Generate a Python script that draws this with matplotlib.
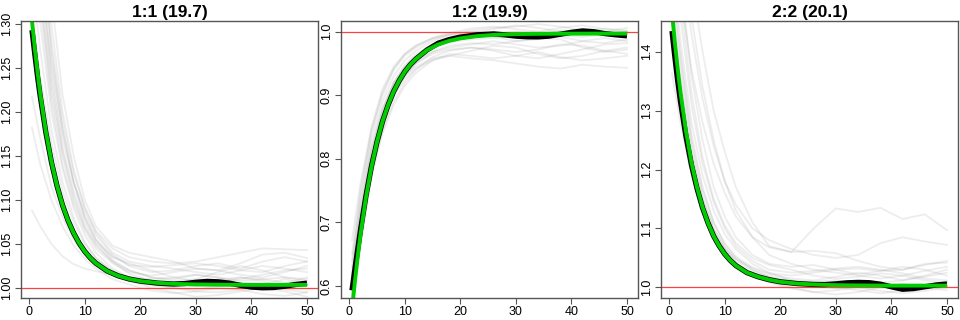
import matplotlib
matplotlib.use("Agg")
import matplotlib.pyplot as plt

plt.rcParams['font.family'] = ['Liberation Sans', 'DejaVu Sans']

# panel titles
titles = ["1:1 (19.7)", "1:2 (19.9)", "2:2 (20.1)"]

# x positions for the mean / fitted curves
t = [0.5, 1, 1.5, 2, 3, 4, 5, 6, 7, 8, 9, 10, 11, 12, 14, 16, 18, 20, 23, 26,
     28, 30, 32, 34, 36, 38, 40, 42, 44, 46, 48, 50]

# x positions for the individual (gray) runs
gx = [0.5, 2, 4, 6, 8, 10, 12, 15, 18, 22, 26, 30, 34, 38, 42, 46, 50]

# ---- panel 1:1 ----
fit_11 = [1.3035, 1.2726, 1.2449, 1.220, 1.1777, 1.1437, 1.1163, 1.0942, 1.0765,
          1.0623, 1.0508, 1.0415, 1.0341, 1.0281, 1.0194, 1.0138, 1.0102, 1.0078,
          1.0058, 1.0047, 1.0043, 1.0040, 1.0038, 1.0037, 1.0036, 1.0036, 1.0035,
          1.0035, 1.0035, 1.0035, 1.0035, 1.0035]
mean_11 = [1.293, 1.266, 1.240, 1.217, 1.1765, 1.143, 1.116, 1.094, 1.0765,
           1.0623, 1.0508, 1.0415, 1.0341, 1.0281, 1.0194, 1.0138, 1.0102, 1.0078,
           1.0056, 1.0045, 1.005, 1.0065, 1.0075, 1.007, 1.0055, 1.003, 1.001,
           1.0002, 1.0005, 1.002, 1.004, 1.0055]
runs_11 = [
    [1.088, 1.070, 1.050, 1.036, 1.027, 1.022, 1.019, 1.015, 1.012, 1.010, 1.012, 1.015, 1.012, 1.008, 1.010, 1.012, 1.010],
    [1.217, 1.170, 1.115, 1.080, 1.055, 1.038, 1.026, 1.015, 1.008, 1.003, 1.000, 0.998, 1.002, 1.006, 1.004, 0.998, 0.995],
    [1.182, 1.140, 1.100, 1.070, 1.048, 1.033, 1.022, 1.010, 1.004, 0.997, 0.994, 0.996, 1.000, 0.998, 0.993, 0.991, 0.995],
    [1.450, 1.360, 1.250, 1.170, 1.120, 1.085, 1.060, 1.038, 1.025, 1.018, 1.020, 1.025, 1.028, 1.022, 1.030, 1.035, 1.030],
    [1.500, 1.400, 1.280, 1.190, 1.130, 1.090, 1.063, 1.040, 1.030, 1.025, 1.022, 1.018, 1.015, 1.020, 1.025, 1.022, 1.018],
    [1.420, 1.330, 1.220, 1.150, 1.100, 1.068, 1.048, 1.030, 1.020, 1.012, 1.008, 1.010, 1.018, 1.025, 1.020, 1.012, 1.008],
    [1.550, 1.440, 1.300, 1.200, 1.135, 1.092, 1.065, 1.045, 1.035, 1.030, 1.028, 1.030, 1.035, 1.040, 1.045, 1.044, 1.043],
    [1.380, 1.300, 1.200, 1.135, 1.090, 1.060, 1.040, 1.022, 1.012, 1.005, 1.000, 0.996, 0.995, 0.998, 1.004, 1.010, 1.005],
    [1.480, 1.380, 1.260, 1.180, 1.120, 1.080, 1.055, 1.032, 1.020, 1.012, 1.010, 1.015, 1.012, 1.005, 1.000, 1.005, 1.012],
    [1.400, 1.320, 1.210, 1.140, 1.095, 1.065, 1.045, 1.028, 1.018, 1.014, 1.018, 1.022, 1.020, 1.015, 1.012, 1.018, 1.025],
    [1.600, 1.480, 1.330, 1.220, 1.150, 1.100, 1.070, 1.048, 1.040, 1.035, 1.030, 1.022, 1.020, 1.028, 1.038, 1.040, 1.034],
    [1.350, 1.270, 1.180, 1.120, 1.080, 1.052, 1.034, 1.018, 1.008, 1.000, 0.995, 0.990, 0.992, 0.996, 1.000, 0.996, 0.990],
    [1.460, 1.360, 1.240, 1.160, 1.110, 1.075, 1.052, 1.035, 1.028, 1.020, 1.012, 1.008, 1.006, 1.010, 1.015, 1.020, 1.022],
    [1.520, 1.410, 1.270, 1.180, 1.120, 1.080, 1.055, 1.036, 1.026, 1.024, 1.026, 1.028, 1.025, 1.020, 1.018, 1.025, 1.030],
    [1.430, 1.340, 1.230, 1.155, 1.105, 1.070, 1.050, 1.030, 1.016, 1.008, 1.005, 1.002, 1.006, 1.012, 1.008, 1.000, 1.002],
    [1.300, 1.240, 1.165, 1.110, 1.075, 1.050, 1.034, 1.020, 1.010, 1.004, 1.002, 1.005, 1.010, 1.012, 1.010, 1.006, 1.004],
]

# ---- panel 1:2 ----
fit_12 = [0.562, 0.605, 0.644, 0.679, 0.7387, 0.787, 0.8267, 0.859, 0.8847, 0.906,
          0.923, 0.937, 0.9482, 0.957, 0.9709, 0.9798, 0.9856, 0.9895, 0.993, 0.9949,
          0.9956, 0.9961, 0.9964, 0.9966, 0.9967, 0.9968, 0.9969, 0.9969, 0.997,
          0.997, 0.997, 0.997]
mean_12 = [0.593, 0.625, 0.656, 0.686, 0.741, 0.788, 0.8267, 0.859, 0.8847, 0.906,
           0.923, 0.937, 0.9482, 0.957, 0.9712, 0.9818, 0.9876, 0.9915, 0.995, 0.9965,
           0.995, 0.993, 0.992, 0.9918, 0.993, 0.996, 0.999, 1.0012, 1.000, 0.997,
           0.995, 0.9935]
runs_12 = [
    [0.672, 0.760, 0.850, 0.910, 0.945, 0.965, 0.978, 0.990, 0.998, 1.005, 1.008, 1.004, 1.000, 1.006, 1.010, 1.004, 1.000],
    [0.640, 0.730, 0.830, 0.890, 0.930, 0.955, 0.970, 0.985, 0.995, 1.000, 0.998, 0.992, 0.995, 1.002, 1.000, 0.995, 0.998],
    [0.600, 0.700, 0.800, 0.865, 0.905, 0.930, 0.945, 0.958, 0.962, 0.958, 0.955, 0.950, 0.945, 0.942, 0.948, 0.945, 0.943],
    [0.580, 0.680, 0.780, 0.845, 0.890, 0.920, 0.940, 0.960, 0.970, 0.975, 0.972, 0.968, 0.972, 0.980, 0.978, 0.970, 0.965],
    [0.620, 0.720, 0.820, 0.880, 0.920, 0.945, 0.960, 0.975, 0.983, 0.988, 0.990, 0.995, 0.998, 0.992, 0.985, 0.982, 0.988],
    [0.590, 0.690, 0.800, 0.870, 0.915, 0.940, 0.955, 0.968, 0.975, 0.980, 0.985, 0.980, 0.975, 0.978, 0.985, 0.990, 0.985],
    [0.630, 0.740, 0.840, 0.900, 0.940, 0.962, 0.975, 0.988, 0.995, 0.998, 1.004, 1.010, 1.006, 1.000, 0.996, 1.000, 1.006],
    [0.570, 0.660, 0.770, 0.840, 0.885, 0.915, 0.935, 0.955, 0.965, 0.962, 0.958, 0.962, 0.968, 0.960, 0.955, 0.958, 0.962],
    [0.610, 0.710, 0.810, 0.875, 0.920, 0.948, 0.965, 0.980, 0.990, 0.995, 0.992, 0.985, 0.988, 0.995, 1.000, 1.005, 1.002],
    [0.600, 0.700, 0.800, 0.860, 0.900, 0.925, 0.942, 0.955, 0.962, 0.970, 0.978, 0.975, 0.965, 0.958, 0.962, 0.970, 0.975],
    [0.650, 0.750, 0.845, 0.905, 0.942, 0.965, 0.978, 0.990, 0.996, 1.002, 1.006, 1.008, 1.012, 1.008, 1.002, 0.998, 0.995],
    [0.585, 0.685, 0.790, 0.855, 0.900, 0.930, 0.950, 0.968, 0.978, 0.982, 0.980, 0.985, 0.990, 0.988, 0.975, 0.968, 0.972],
    [0.615, 0.715, 0.815, 0.878, 0.918, 0.944, 0.960, 0.974, 0.985, 0.992, 0.996, 1.000, 0.998, 0.994, 0.992, 0.996, 1.000],
    [0.595, 0.695, 0.800, 0.862, 0.905, 0.932, 0.950, 0.965, 0.972, 0.975, 0.970, 0.962, 0.958, 0.965, 0.972, 0.980, 0.982],
]

# ---- panel 2:2 ----
fit_22 = [1.467, 1.417, 1.3727, 1.333, 1.2659, 1.212, 1.1699, 1.136, 1.1089, 1.087,
          1.0702, 1.0565, 1.0457, 1.037, 1.025, 1.018, 1.013, 1.0095, 1.0065, 1.005,
          1.0043, 1.0038, 1.0035, 1.0033, 1.0032, 1.0031, 1.003, 1.003, 1.003,
          1.003, 1.003, 1.003]
mean_22 = [1.435, 1.392, 1.352, 1.317, 1.257, 1.208, 1.168, 1.135, 1.1089, 1.087,
           1.0702, 1.0565, 1.0457, 1.037, 1.025, 1.018, 1.013, 1.0095, 1.0065, 1.005,
           1.0048, 1.006, 1.0078, 1.0085, 1.008, 1.0055, 1.001, 0.9968, 0.998, 1.001,
           1.004, 1.0058]
runs_22 = [
    [1.800, 1.680, 1.520, 1.400, 1.300, 1.230, 1.170, 1.110, 1.070, 1.060, 1.100, 1.134, 1.128, 1.135, 1.116, 1.124, 1.097],
    [1.700, 1.580, 1.430, 1.320, 1.240, 1.180, 1.140, 1.100, 1.080, 1.065, 1.055, 1.050, 1.055, 1.075, 1.085, 1.078, 1.072],
    [1.600, 1.500, 1.370, 1.280, 1.210, 1.160, 1.120, 1.085, 1.068, 1.060, 1.062, 1.058, 1.045, 1.035, 1.030, 1.038, 1.045],
    [1.363, 1.280, 1.190, 1.130, 1.090, 1.065, 1.048, 1.032, 1.022, 1.015, 1.012, 1.018, 1.025, 1.020, 1.012, 1.018, 1.025],
    [1.550, 1.420, 1.280, 1.190, 1.130, 1.090, 1.065, 1.040, 1.025, 1.012, 1.004, 0.998, 1.002, 1.008, 1.012, 1.020, 1.030],
    [1.520, 1.400, 1.260, 1.170, 1.110, 1.072, 1.050, 1.030, 1.018, 1.008, 1.002, 1.000, 0.995, 0.990, 0.995, 1.000, 1.002],
    [1.650, 1.520, 1.360, 1.250, 1.170, 1.120, 1.085, 1.055, 1.040, 1.035, 1.038, 1.030, 1.022, 1.028, 1.035, 1.030, 1.020],
    [1.480, 1.370, 1.240, 1.155, 1.100, 1.065, 1.042, 1.022, 1.010, 1.000, 0.992, 0.988, 0.992, 1.000, 1.006, 1.000, 0.995],
    [1.580, 1.460, 1.310, 1.210, 1.145, 1.100, 1.070, 1.045, 1.030, 1.025, 1.028, 1.032, 1.035, 1.030, 1.024, 1.015, 1.012],
    [1.450, 1.350, 1.230, 1.150, 1.100, 1.068, 1.046, 1.028, 1.018, 1.012, 1.010, 1.012, 1.008, 1.002, 0.998, 1.004, 1.010],
    [1.750, 1.620, 1.460, 1.340, 1.250, 1.180, 1.130, 1.085, 1.055, 1.040, 1.030, 1.025, 1.020, 1.015, 1.020, 1.028, 1.035],
    [1.420, 1.320, 1.210, 1.140, 1.090, 1.060, 1.040, 1.020, 1.008, 0.998, 0.992, 0.995, 1.000, 0.994, 0.990, 0.994, 1.000],
    [1.620, 1.490, 1.330, 1.220, 1.150, 1.105, 1.075, 1.050, 1.038, 1.030, 1.020, 1.015, 1.018, 1.024, 1.020, 1.012, 1.008],
    [1.500, 1.390, 1.250, 1.165, 1.110, 1.075, 1.052, 1.034, 1.024, 1.020, 1.025, 1.030, 1.032, 1.028, 1.030, 1.040, 1.042],
]

panels = [
    (runs_11, mean_11, fit_11, (0.9886, 1.3034), [1.00, 1.05, 1.10, 1.15, 1.20, 1.25, 1.30], "{:.2f}"),
    (runs_12, mean_12, fit_12, (0.581, 1.0168), [0.6, 0.7, 0.8, 0.9, 1.0], "{:.1f}"),
    (runs_22, mean_22, fit_22, (0.982, 1.452), [1.0, 1.1, 1.2, 1.3, 1.4], "{:.1f}"),
]

fig = plt.figure(figsize=(9.6, 3.2), dpi=100)
lefts = [21, 341, 661]
frame = '#555555'

for i, (runs, mean, fit, ylim, yt, fmt) in enumerate(panels):
    ax = fig.add_axes([lefts[i] / 960, 22 / 320, 297 / 960, 277 / 320])
    for r in runs:
        ax.plot(gx, r, color='#808080', alpha=0.14, lw=1.3)
    ax.axhline(1.0, color='#ff4040', lw=0.9)
    ax.plot(t, mean, color='black', lw=3.8, solid_capstyle='butt')
    ax.plot(t, fit, color='#00cc00', lw=2.8, solid_capstyle='butt')

    ax.set_xlim(-1.48, 51.98)
    ax.set_ylim(*ylim)
    ax.set_xticks([0, 10, 20, 30, 40, 50])
    ax.set_yticks(yt)
    ax.set_yticklabels([fmt.format(v) for v in yt], rotation=90, va='center')
    ax.tick_params(direction='out', length=4, width=0.8, color=frame,
                   labelsize=9, pad=2)
    for s in ax.spines.values():
        s.set_color(frame)
        s.set_linewidth(1.0)
    ax.set_title(titles[i], fontsize=12.5, fontweight='bold', pad=3)

fig.savefig('out.png', dpi=100)
